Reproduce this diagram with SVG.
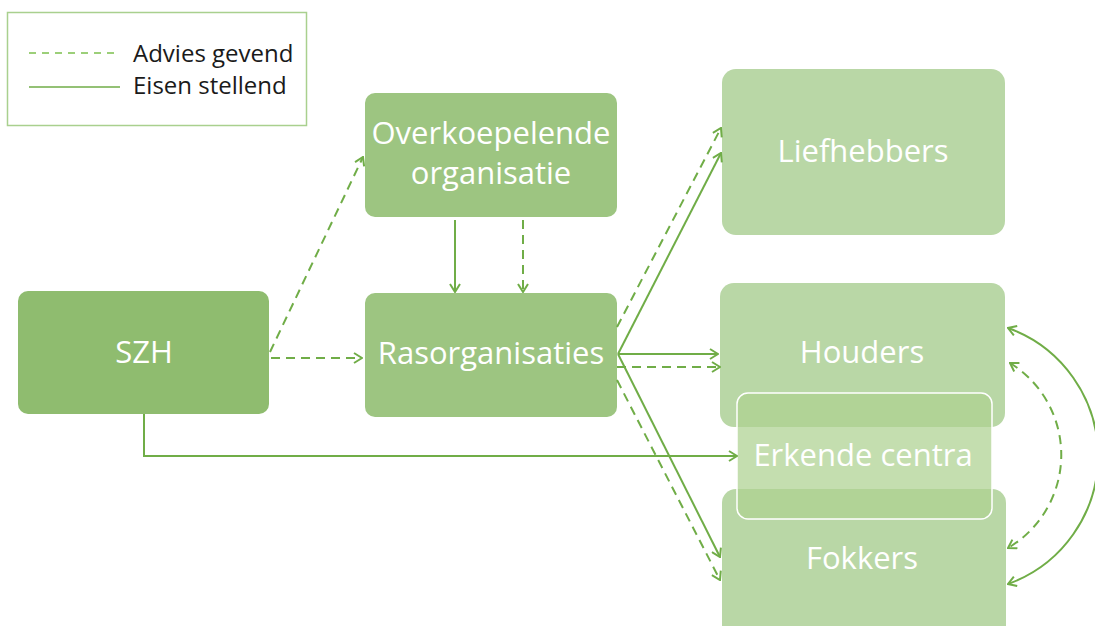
<svg xmlns="http://www.w3.org/2000/svg" width="1095" height="626" viewBox="0 0 1095 626">
<style>
.t{font-family:"Open Sans","Noto Sans",sans-serif;fill:#ffffff;text-anchor:middle;font-size:31px}
.lg{font-family:"Open Sans","Noto Sans",sans-serif;fill:#1a1a1a;font-size:24px}
.c{fill:none;stroke:#70ad47;stroke-width:2}
.d{stroke-dasharray:9 6}
.n1{fill:#8fbc6f}
.n2{fill:#9dc581}
.n3{fill:#b9d7a6}
</style>
<defs>
<marker id="a" viewBox="0 0 10 12" refX="9" refY="6" markerWidth="10" markerHeight="12" markerUnits="userSpaceOnUse" orient="auto-start-reverse">
<path d="M1,1 L9,6 L1,11" fill="none" stroke="#70ad47" stroke-width="2"/>
</marker>
</defs>
<g id="legend">
<rect x="7.5" y="12.5" width="299" height="113" fill="#ffffff" stroke="#a9d08e" stroke-width="1.5"/>
<line x1="29" y1="53" x2="120" y2="53" stroke="#7cc04e" stroke-width="1.5" stroke-dasharray="7 6"/>
<line x1="29" y1="87" x2="120" y2="87" stroke="#70ad47" stroke-width="1.5"/>
<text class="lg" x="133" y="62">Advies gevend</text>
<text class="lg" x="133" y="94">Eisen stellend</text>
</g>
<g id="szh">
<rect class="n1" x="18" y="291" width="251" height="123" rx="10"/>
<text class="t" x="144" y="363">SZH</text>
</g>
<g id="overkoepelende">
<rect class="n2" x="365" y="93" width="252" height="124" rx="10"/>
<text class="t" x="491" y="144">Overkoepelende</text>
<text class="t" x="491" y="184">organisatie</text>
</g>
<g id="rasorganisaties">
<rect class="n2" x="365" y="293" width="252" height="124" rx="10"/>
<text class="t" x="491" y="364">Rasorganisaties</text>
</g>
<g id="liefhebbers">
<rect class="n3" x="722" y="69" width="283" height="166" rx="14"/>
<text class="t" x="863" y="162">Liefhebbers</text>
</g>
<g id="houders">
<rect class="n3" x="720" y="283" width="285" height="144" rx="14"/>
<text class="t" x="862" y="363">Houders</text>
</g>
<g id="fokkers">
<rect class="n3" x="722" y="489" width="284" height="160" rx="14"/>
<text class="t" x="862" y="569">Fokkers</text>
</g>
<g id="erkende">
<rect x="737" y="393" width="255" height="126" rx="11" fill="#add190" fill-opacity="0.72" stroke="#ffffff" stroke-width="1.5"/>
<text class="t" x="863" y="466">Erkende centra</text>
</g>
<g id="connectors">
<path class="c d" d="M270,352 L363,157" marker-end="url(#a)"/>
<path class="c d" d="M271,358 L362,358" marker-end="url(#a)"/>
<path class="c" d="M455,220 L455,292" marker-end="url(#a)"/>
<path class="c d" d="M523,220 L523,292" marker-end="url(#a)"/>
<path class="c d" d="M617,327 L721,128" marker-end="url(#a)"/>
<path class="c" stroke-width="1.5" d="M618,354 L721,153" marker-end="url(#a)"/>
<path class="c" stroke-width="1.5" d="M618,354 L718,354" marker-end="url(#a)"/>
<path class="c d" d="M617,367 L720,367" marker-end="url(#a)"/>
<path class="c" stroke-width="1.5" d="M618,354 L720,557" marker-end="url(#a)"/>
<path class="c d" d="M617,380 L720,580" marker-end="url(#a)"/>
<path class="c" d="M144,414 L144,456 L737,456" marker-end="url(#a)"/>
<path class="c" d="M1008,328 A136,136 0 0 1 1008,584" marker-start="url(#a)" marker-end="url(#a)"/>
<path class="c d" d="M1010,363 A108,108 0 0 1 1008,548" marker-start="url(#a)" marker-end="url(#a)"/>
</g>
</svg>
